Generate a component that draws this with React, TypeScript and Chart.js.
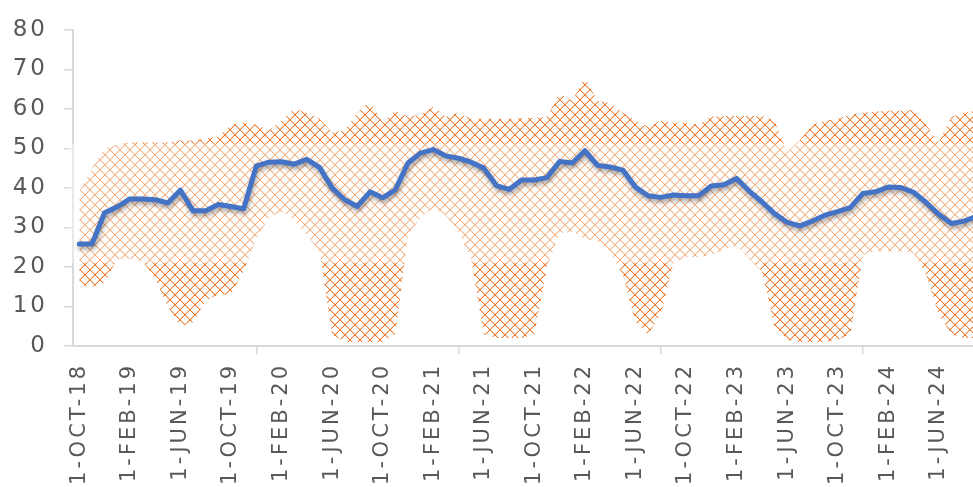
import React, { useEffect, useRef } from 'react';
import { Chart, registerables } from 'chart.js';

Chart.register(...registerables);

const categories: string[] = [
  '1-OCT-18', '1-NOV-18', '1-DEC-18',
  '1-JAN-19', '1-FEB-19', '1-MAR-19', '1-APR-19', '1-MAY-19', '1-JUN-19', '1-JUL-19', '1-AUG-19', '1-SEP-19', '1-OCT-19', '1-NOV-19', '1-DEC-19',
  '1-JAN-20', '1-FEB-20', '1-MAR-20', '1-APR-20', '1-MAY-20', '1-JUN-20', '1-JUL-20', '1-AUG-20', '1-SEP-20', '1-OCT-20', '1-NOV-20', '1-DEC-20',
  '1-JAN-21', '1-FEB-21', '1-MAR-21', '1-APR-21', '1-MAY-21', '1-JUN-21', '1-JUL-21', '1-AUG-21', '1-SEP-21', '1-OCT-21', '1-NOV-21', '1-DEC-21',
  '1-JAN-22', '1-FEB-22', '1-MAR-22', '1-APR-22', '1-MAY-22', '1-JUN-22', '1-JUL-22', '1-AUG-22', '1-SEP-22', '1-OCT-22', '1-NOV-22', '1-DEC-22',
  '1-JAN-23', '1-FEB-23', '1-MAR-23', '1-APR-23', '1-MAY-23', '1-JUN-23', '1-JUL-23', '1-AUG-23', '1-SEP-23', '1-OCT-23', '1-NOV-23', '1-DEC-23',
  '1-JAN-24', '1-FEB-24', '1-MAR-24', '1-APR-24', '1-MAY-24', '1-JUN-24', '1-JUL-24', '1-AUG-24', '1-SEP-24',
];

const averageValues: number[] = [
  25.8, 25.8, 33.7, 35.2, 37.2, 37.2, 37.0, 36.2, 39.4, 34.2, 34.2, 35.8,
  35.3, 34.7, 45.5, 46.5, 46.6, 46.0, 47.2, 45.2, 40.0, 37.0, 35.3, 39.0,
  37.5, 39.5, 46.3, 48.8, 49.7, 48.1, 47.5, 46.5, 45.0, 40.6, 39.6, 42.0,
  42.0, 42.6, 46.7, 46.3, 49.4, 45.7, 45.3, 44.5, 40.2, 38.0, 37.6, 38.2,
  38.0, 38.0, 40.5, 40.8, 42.4, 39.2, 36.5, 33.5, 31.3, 30.4, 31.6, 33.1,
  34.0, 35.0, 38.6, 39.0, 40.2, 40.1, 38.9, 36.3, 33.3, 31.0, 31.6, 32.8,
];

const upperValues: number[] = [
  39, 45, 50, 51, 51.5, 51.5, 51.5, 51.5, 52, 52, 52.5, 53,
  56, 56.5, 56, 54.5, 57, 60, 59, 57.5, 54, 54.5, 59, 62,
  56.5, 59.5, 58, 58.5, 60.5, 58, 59, 57.5, 57.5, 57.5, 57.5, 57.7,
  57.7, 58, 64, 62, 68, 62, 61.5, 59, 57, 55.5, 57, 56.5,
  56.5, 56, 58, 58.2, 58.2, 58.2, 58.2, 57, 49, 52, 56, 57,
  57.5, 58.5, 59, 59.3, 59.5, 59.5, 59.7, 56, 51.5, 58, 59, 59.5,
];

const lowerValues: number[] = [
  15.5, 15, 16, 22, 22, 21.5, 17, 10, 5, 6, 11.5, 13,
  13, 19, 27, 32.5, 34, 32, 28, 24, 3, 1, 1, 1,
  1, 3, 28, 32.5, 35, 33, 29, 22, 3, 2, 2, 2,
  3, 20, 28.5, 29, 27, 26.5, 24, 18, 6, 3, 8, 21,
  22.5, 22.5, 23, 24.5, 25.5, 22, 19, 5, 1.5, 1, 1, 1,
  1.5, 3, 23, 24, 24, 24, 23.5, 18, 8, 3, 2, 2,
];

const yMin = 0;
const yMax = 80;
const yStep = 10;
const labelEvery = 4;
const fadeBandTop = 51.2;
const fadeBandBottom = 21;

const TEXT = '#595959';
const AXIS = '#d9d9d9';
const ORANGE = '#ED7D31';
const BLUE = '#4472C4';

function makeHatch(): CanvasPattern | string {
  const s = 10;
  const c = document.createElement('canvas');
  c.width = s;
  c.height = s;
  const g = c.getContext('2d');
  if (!g) return ORANGE;
  for (let k = 0; k < s; k++) {
    g.fillStyle = ORANGE;
    g.fillRect(k, k, 1, 1);
    g.fillRect(s - 1 - k, k, 1, 1);
    g.fillStyle = 'rgba(237,125,49,0.35)';
    g.fillRect((k + 1) % s, k, 1, 1);
    g.fillRect((2 * s - 2 - k) % s, k, 1, 1);
  }
  return g.createPattern(c, 'repeat') || ORANGE;
}

const spacingPlugin = {
  id: 'letterSpacing',
  beforeUpdate(chart: any) {
    chart.ctx.letterSpacing = '3px';
  },
  beforeDraw(chart: any) {
    chart.ctx.letterSpacing = '3px';
  },
};

const lineEffectsPlugin = {
  id: 'lineEffects',
  beforeDatasetDraw(chart: any, args: any) {
    if (args.index !== 2) return;
    const ctx = chart.ctx;
    const y = chart.scales.y;
    const area = chart.chartArea;
    const top = y.getPixelForValue(fadeBandTop);
    const bottom = y.getPixelForValue(fadeBandBottom);
    ctx.save();
    ctx.fillStyle = 'rgba(255,255,255,0.4)';
    ctx.fillRect(area.left - 4, top, area.right - area.left + 8, bottom - top);
    ctx.restore();
    ctx.save();
    ctx.shadowColor = 'rgba(0,0,0,0.35)';
    ctx.shadowBlur = 4;
    ctx.shadowOffsetX = 1;
    ctx.shadowOffsetY = 3;
  },
  afterDatasetDraw(chart: any, args: any) {
    if (args.index !== 2) return;
    chart.ctx.restore();
  },
};

export default function App() {
  const canvasRef = useRef<HTMLCanvasElement | null>(null);

  useEffect(() => {
    const canvas = canvasRef.current;
    if (!canvas) return;
    const hatch = makeHatch();
    const chart = new Chart(canvas, {
      type: 'line',
      data: {
        labels: categories,
        datasets: [
          {
            label: 'Low',
            data: lowerValues,
            borderWidth: 0,
            borderColor: 'rgba(0,0,0,0)',
            backgroundColor: 'rgba(0,0,0,0)',
            pointRadius: 0,
            fill: false,
            order: 2,
          },
          {
            label: 'High',
            data: upperValues,
            borderWidth: 0,
            borderColor: 'rgba(0,0,0,0)',
            backgroundColor: hatch as any,
            pointRadius: 0,
            fill: '-1',
            order: 1,
          },
          {
            label: 'Average',
            data: averageValues,
            borderColor: BLUE,
            borderWidth: 5,
            borderJoinStyle: 'round',
            borderCapStyle: 'round',
            pointRadius: 0,
            fill: false,
            tension: 0,
            order: 0,
          },
        ],
      },
      options: {
        responsive: false,
        animation: false,
        events: [],
        layout: { padding: { top: 19, left: 0, right: 0, bottom: 0 } },
        plugins: {
          legend: { display: false },
          tooltip: { enabled: false },
        },
        scales: {
          x: {
            type: 'category',
            offset: true,
            border: { display: true, color: AXIS, width: 2 },
            grid: {
              offset: true,
              drawOnChartArea: false,
              drawTicks: true,
              tickLength: 8,
              lineWidth: 1.5,
              color: (ctx: any) => (ctx.index % labelEvery === 0 ? AXIS : 'rgba(0,0,0,0)'),
            },
            ticks: {
              autoSkip: false,
              maxRotation: 90,
              minRotation: 90,
              padding: 9,
              color: TEXT,
              font: { family: 'DejaVu Sans', size: 21 },
              callback: (_v: any, i: number) => (i % labelEvery === 0 ? categories[i] : null),
            },
            afterFit: (scale: any) => {
              scale.height = 141;
            },
          },
          y: {
            min: yMin,
            max: yMax,
            border: { display: true, color: AXIS, width: 2 },
            grid: {
              drawOnChartArea: false,
              drawTicks: true,
              tickLength: 9,
              lineWidth: 1.5,
              color: AXIS,
            },
            ticks: {
              stepSize: yStep,
              padding: 16,
              color: TEXT,
              font: { family: 'DejaVu Sans', size: 23 },
            },
            afterFit: (scale: any) => {
              scale.width = 73;
            },
          },
        },
      },
      plugins: [spacingPlugin, lineEffectsPlugin],
    });
    return () => chart.destroy();
  }, []);

  return (
    <div
      style={{
        position: 'fixed',
        left: 0,
        top: 0,
        width: 973,
        height: 487,
        overflow: 'hidden',
        background: '#ffffff',
      }}
    >
      <canvas ref={canvasRef} width={983} height={487} style={{ display: 'block' }} />
    </div>
  );
}
